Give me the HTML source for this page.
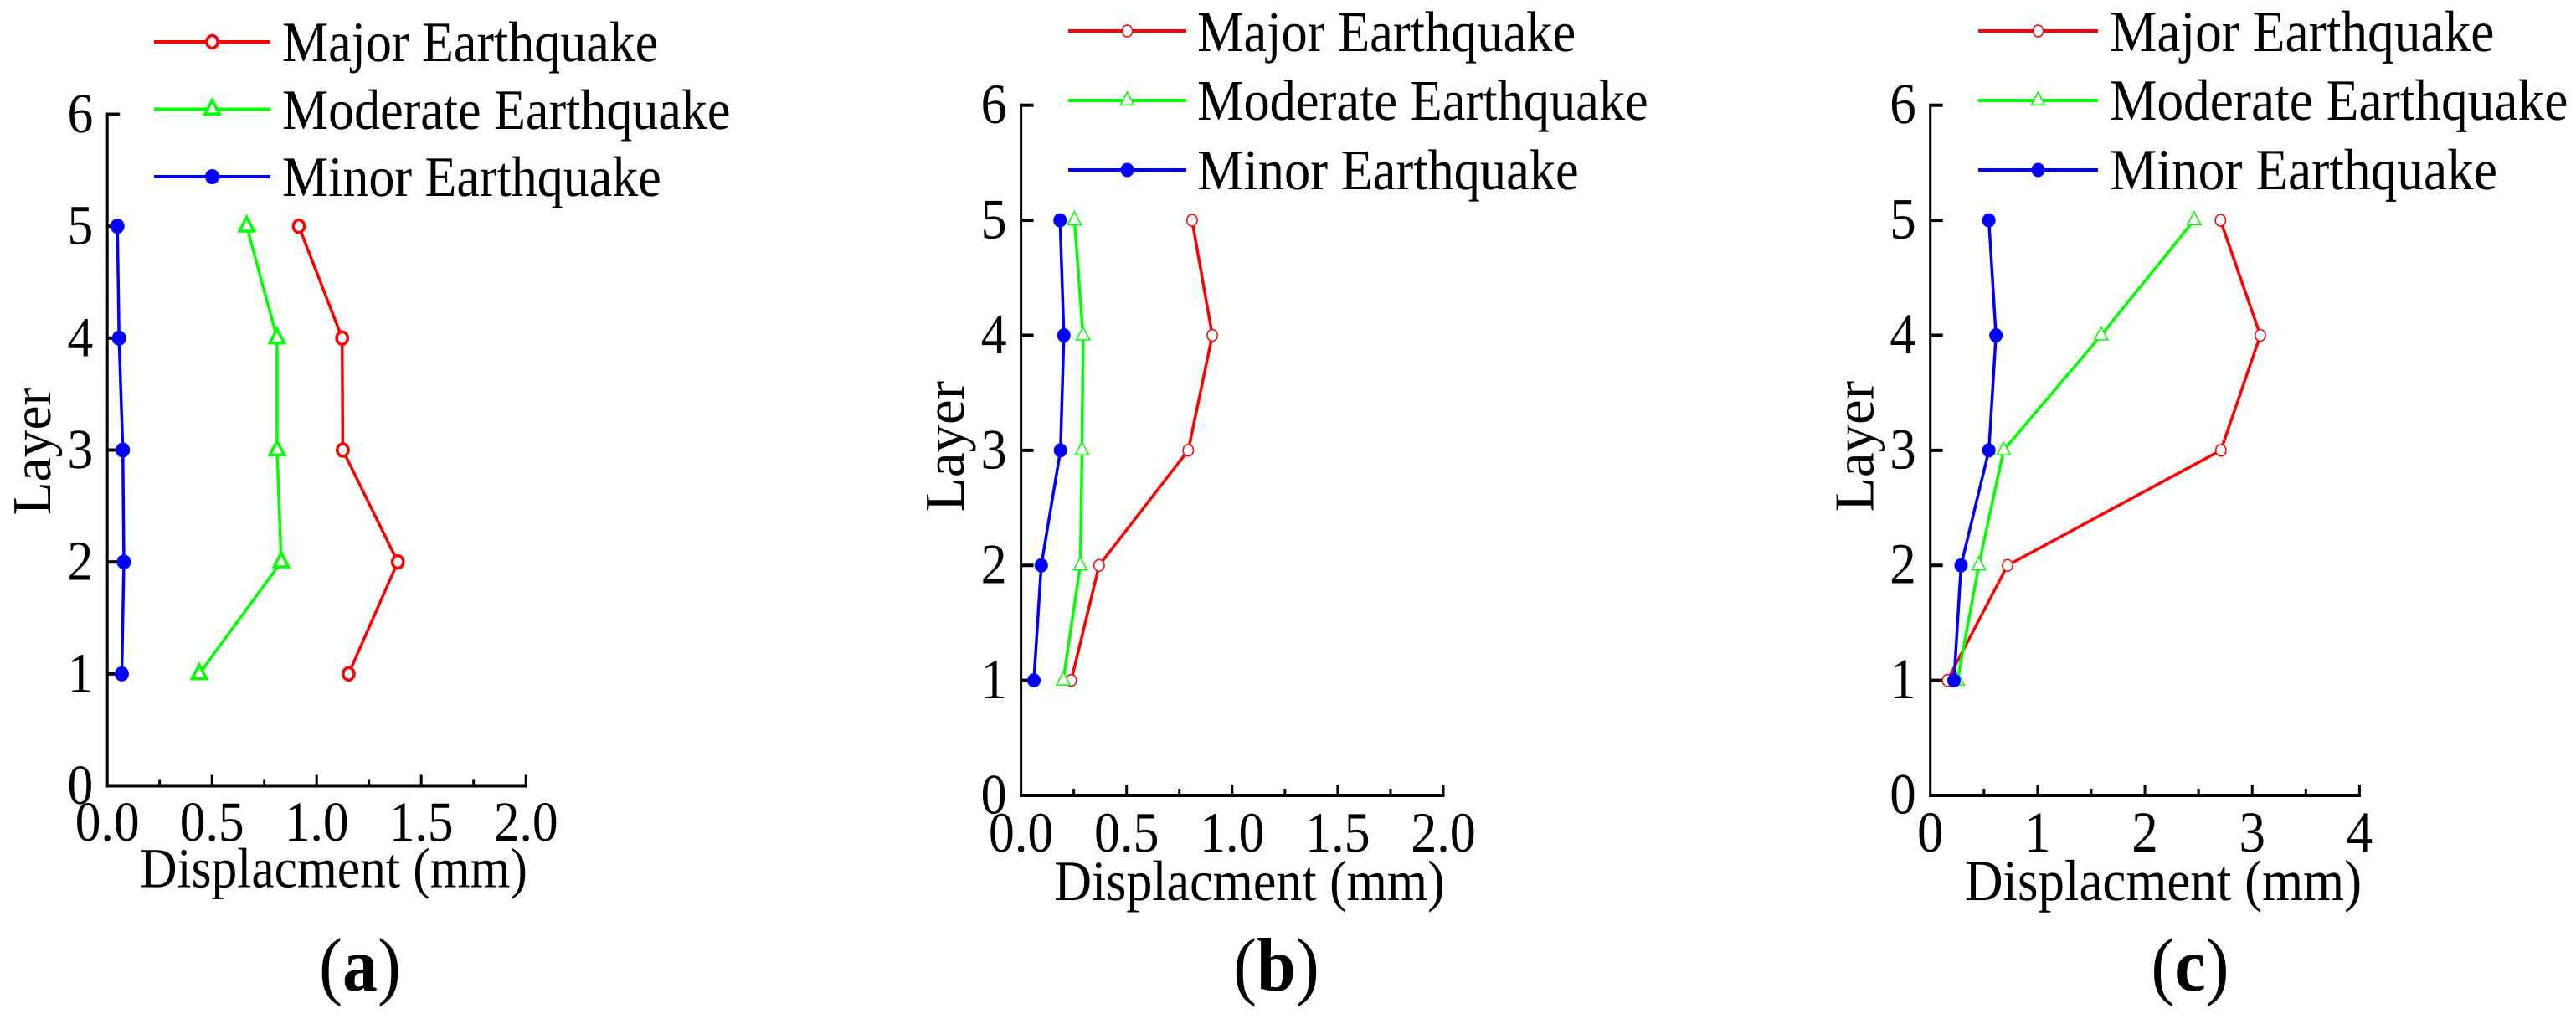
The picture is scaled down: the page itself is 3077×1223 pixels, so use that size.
<!DOCTYPE html>
<html lang="en">
<head>
<meta charset="utf-8">
<title>Displacement per layer under earthquake levels</title>
<style>
html,body{margin:0;padding:0;background:#fff;}
svg{display:block;}
text{font-family:"Liberation Serif",serif;fill:#000;text-rendering:geometricPrecision;}
</style>
</head>
<body>
<svg id="figure" width="3077" height="1223" viewBox="0 0 3077 1223" xmlns="http://www.w3.org/2000/svg">
  <rect width="3077" height="1223" fill="#fff"/>

  <g id="panel-a"></g>
  <g id="panel-b"></g>
  <g id="panel-c"></g>

  <text transform="translate(337,73) scale(1,1.1)" font-size="62">Major Earthquake</text>
  <text transform="translate(337,154) scale(1,1.1)" font-size="62">Moderate Earthquake</text>
  <text transform="translate(337,234) scale(1,1.1)" font-size="62">Minor Earthquake</text>
  <text transform="translate(398.5,1059.5) scale(1,1.1)" font-size="61.5" text-anchor="middle">Displacment (mm)</text>
  <text transform="translate(60,539) rotate(-90)" font-size="65.5" text-anchor="middle">Layer</text>
  <text transform="translate(430,1183) scale(1,1.08)" font-size="84" text-anchor="middle">(<tspan font-weight="bold">a</tspan>)</text>

  <text transform="translate(1430,61) scale(1,1.1)" font-size="62.4">Major Earthquake</text>
  <text transform="translate(1430,143) scale(1,1.1)" font-size="62.4">Moderate Earthquake</text>
  <text transform="translate(1430,226) scale(1,1.1)" font-size="62.4">Minor Earthquake</text>
  <text transform="translate(1492.5,1075) scale(1,1.1)" font-size="62" text-anchor="middle">Displacment (mm)</text>
  <text transform="translate(1151,533) rotate(-90)" font-size="67" text-anchor="middle">Layer</text>
  <text transform="translate(1524.5,1183) scale(1,1.08)" font-size="84" text-anchor="middle">(<tspan font-weight="bold">b</tspan>)</text>

  <text transform="translate(2520,61) scale(1,1.1)" font-size="63.4">Major Earthquake</text>
  <text transform="translate(2520,143) scale(1,1.1)" font-size="63.4">Moderate Earthquake</text>
  <text transform="translate(2520,226) scale(1,1.1)" font-size="63.4">Minor Earthquake</text>
  <text transform="translate(2584,1075) scale(1,1.1)" font-size="63" text-anchor="middle">Displacment (mm)</text>
  <text transform="translate(2237.5,533) rotate(-90)" font-size="67" text-anchor="middle">Layer</text>
  <text transform="translate(2616,1183) scale(1,1.08)" font-size="84" text-anchor="middle">(<tspan font-weight="bold">c</tspan>)</text>
</svg>

<script>
// Chart data
const layers = [1, 2, 3, 4, 5];
const yTickValues = [0, 1, 2, 3, 4, 5, 6];

const majorA = [1.153, 1.388, 1.125, 1.122, 0.915];
const moderateA = [0.439, 0.831, 0.811, 0.811, 0.666];
const minorA = [0.069, 0.079, 0.074, 0.056, 0.048];
const xTicksA = [0, 0.5, 1, 1.5, 2];
const xTickLabelsA = ["0.0", "0.5", "1.0", "1.5", "2.0"];

const majorB = [0.238, 0.370, 0.792, 0.906, 0.810];
const moderateB = [0.200, 0.281, 0.289, 0.294, 0.253];
const minorB = [0.061, 0.096, 0.187, 0.203, 0.185];
const xTicksB = [0, 0.5, 1, 1.5, 2];
const xTickLabelsB = ["0.0", "0.5", "1.0", "1.5", "2.0"];

const majorC = [0.160, 0.720, 2.708, 3.076, 2.704];
const moderateC = [0.254, 0.452, 0.683, 1.592, 2.459];
const minorC = [0.221, 0.287, 0.546, 0.612, 0.546];
const xTicksC = [0, 1, 2, 3, 4];
const xTickLabelsC = ["0", "1", "2", "3", "4"];

const NS = "http://www.w3.org/2000/svg";

function make(tag, attrs, parent) {
  const node = document.createElementNS(NS, tag);
  for (const key in attrs) node.setAttribute(key, attrs[key]);
  parent.appendChild(node);
  return node;
}

function drawMarker(parent, kind, color, cx, cy, size, open, strokeW, name) {
  let m;
  if (kind === "triangle") {
    const hw = size * 1.15, up = size * 1.45, dn = size * 0.78;
    m = make("polygon", {
      points: (cx) + "," + (cy - up) + " " + (cx + hw) + "," + (cy + dn) + " " + (cx - hw) + "," + (cy + dn),
      fill: "#fff", stroke: color, "stroke-width": strokeW
    }, parent);
  } else if (open) {
    m = make("ellipse", {
      cx: cx, cy: cy, rx: size * 0.88, ry: size,
      fill: "#fff", stroke: color, "stroke-width": strokeW
    }, parent);
  } else {
    m = make("ellipse", {
      cx: cx, cy: cy, rx: size + 1, ry: size + 1.5,
      fill: color, stroke: "none"
    }, parent);
  }
  
  
}

function drawPanel(opts) {
  const g = document.getElementById(opts.id);
  const xScale = v => opts.x0 + (v / opts.xMax) * (opts.x1 - opts.x0);
  const yScale = v => opts.y0 + (v / 6) * (opts.y6 - opts.y0);

  // axes
  const yAxis = make("line", { x1: opts.x0, x2: opts.x0, y1: yScale(6) - 2, y2: yScale(0) + 2, stroke: "#000", "stroke-width": 3 }, g);
  
  
  const xAxis = make("line", { x1: opts.x0 - 1.5, x2: opts.x1 + 1.5, y1: yScale(0), y2: yScale(0), stroke: "#000", "stroke-width": 4 }, g);
  
  

  // y ticks
  yTickValues.forEach(v => {
    if (v > 0) {
      const t = make("line", { x1: opts.x0, x2: opts.x0 + 15, y1: yScale(v), y2: yScale(v), stroke: "#000", "stroke-width": 4 }, g);
      
      
    }
    const lab = make("text", {
      transform: "translate(" + (opts.x0 - 17) + "," + (yScale(v) + 21.5) + ") scale(1,1.1)",
      "font-size": opts.font, "text-anchor": "end"
    }, g);
    lab.textContent = String(v);
    
    
  });

  // x ticks (major + minor halfway)
  opts.xTicks.forEach((v, i) => {
    if (i > 0) {
      const major = make("line", { x1: xScale(v), x2: xScale(v), y1: yScale(0), y2: yScale(0) - 13, stroke: "#000", "stroke-width": 3 }, g);
      
      
      const mid = (v + opts.xTicks[i - 1]) / 2;
      const minor = make("line", { x1: xScale(mid), x2: xScale(mid), y1: yScale(0), y2: yScale(0) - 8, stroke: "#000", "stroke-width": 3 }, g);
      
      
    }
    const lab = make("text", {
      transform: "translate(" + xScale(v) + "," + opts.xLabelY + ") scale(1,1.1)",
      "font-size": opts.font, "text-anchor": "middle"
    }, g);
    lab.textContent = opts.xTickLabels[i];
    
    
  });

  // series: red, green, blue
  opts.series.forEach(s => {
    const pts = s.values.map((v, i) => xScale(v) + "," + yScale(layers[i])).join(" ");
    const line = make("polyline", { points: pts, fill: "none", stroke: s.color, "stroke-width": 3.5, "stroke-linejoin": "miter" }, g);
    
    
    s.values.forEach((v, i) => {
      drawMarker(g, s.kind, s.color, xScale(v), yScale(layers[i]), opts.markerSize, s.open, opts.markerStroke, s.name + '-point');
    });
  });

  // legend swatches
  opts.series.forEach((s, i) => {
    const y = opts.legendY[i];
    const sw = make("line", { x1: opts.legendX0, x2: opts.legendX1, y1: y, y2: y, stroke: s.color, "stroke-width": 4 }, g);
    
    
    drawMarker(g, s.kind, s.color, (opts.legendX0 + opts.legendX1) / 2, y, opts.markerSize, s.open, opts.markerStroke, s.name + '-legend-marker');
  });
}

drawPanel({
  id: "panel-a", x0: 128.2, x1: 628.2, xMax: 2, y0: 938.5, y6: 136.5,
  font: 61.5, xLabelY: 1004, xTicks: xTicksA, xTickLabels: xTickLabelsA,
  markerSize: 7.5, markerStroke: 3.5,
  legendX0: 184, legendX1: 323, legendY: [50, 130.5, 211],
  series: [
    { name: "major-earthquake", color: "#ff0000", kind: "circle", open: true, values: majorA },
    { name: "moderate-earthquake", color: "#00ff00", kind: "triangle", open: true, values: moderateA },
    { name: "minor-earthquake", color: "#0000ff", kind: "circle", open: false, values: minorA }
  ]
});

drawPanel({
  id: "panel-b", x0: 1219.6, x1: 1724, xMax: 2, y0: 950, y6: 125.7,
  font: 62, xLabelY: 1017, xTicks: xTicksB, xTickLabels: xTickLabelsB,
  markerSize: 7, markerStroke: 1.5,
  legendX0: 1276, legendX1: 1417, legendY: [37, 120, 203],
  series: [
    { name: "major-earthquake", color: "#ff0000", kind: "circle", open: true, values: majorB },
    { name: "moderate-earthquake", color: "#00ff00", kind: "triangle", open: true, values: moderateB },
    { name: "minor-earthquake", color: "#0000ff", kind: "circle", open: false, values: minorB }
  ]
});

drawPanel({
  id: "panel-c", x0: 2305.7, x1: 2818.4, xMax: 4, y0: 950, y6: 125.7,
  font: 63, xLabelY: 1017, xTicks: xTicksC, xTickLabels: xTickLabelsC,
  markerSize: 7, markerStroke: 1.5,
  legendX0: 2363, legendX1: 2506, legendY: [37, 120, 203],
  series: [
    { name: "major-earthquake", color: "#ff0000", kind: "circle", open: true, values: majorC },
    { name: "moderate-earthquake", color: "#00ff00", kind: "triangle", open: true, values: moderateC },
    { name: "minor-earthquake", color: "#0000ff", kind: "circle", open: false, values: minorC }
  ]
});
</script>
</body>
</html>
